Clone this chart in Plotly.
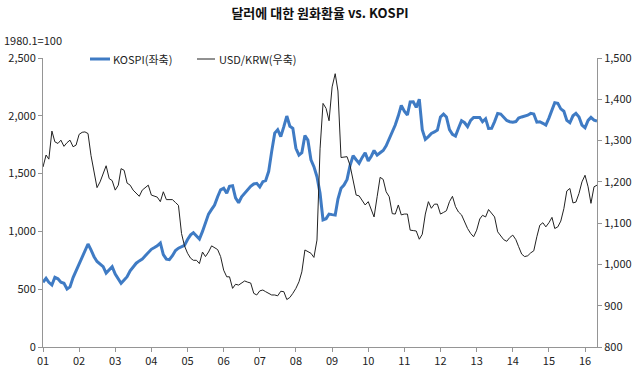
import plotly.graph_objects as go
import pandas as pd

dates = pd.date_range("2001-01-01", periods=185, freq="MS")

kospi = [
    560, 594, 560, 536, 603, 590, 560, 551, 502, 520, 600, 660,
    720, 770, 840, 891, 840, 781, 740, 720, 695, 640, 670, 695,
    630, 590, 551, 580, 608, 660, 690, 725, 745, 760, 790, 815,
    845, 860, 875, 900, 800, 760, 755, 790, 835, 855, 865, 880,
    930, 970, 989, 960, 934, 1000, 1080, 1150, 1190, 1228, 1300, 1360,
    1373, 1330, 1390, 1395, 1290, 1248, 1300, 1330, 1352, 1390, 1410, 1416,
    1385, 1430, 1439, 1520, 1690, 1850, 1880, 1820, 1906, 1998, 1910, 1892,
    1719, 1660, 1680, 1830, 1790, 1620, 1560, 1473, 1330, 1100, 1110, 1150,
    1145, 1142, 1280, 1373, 1401, 1450, 1570, 1655, 1620, 1589, 1640, 1681,
    1610, 1650, 1700, 1660, 1680, 1700, 1740, 1800, 1870, 1920, 2000, 2090,
    2040, 2007, 2120, 2122, 2073, 2143, 1880, 1796, 1820, 1848, 1860, 1877,
    1990, 2015, 1990, 1880, 1840, 1825, 1892, 1957, 1940, 1906, 1960, 1986,
    1986, 1986, 1949, 1975, 1890, 1892, 1950, 2020, 2015, 1990, 1960, 1949,
    1945, 1950, 1980, 1990, 1998, 2005, 2021, 2015, 1945, 1949, 1935, 1920,
    1980, 2050, 2113, 2108, 2060, 2040, 1960, 1940, 2000, 2021, 1990, 1920,
    1897, 1960, 1986, 1962, 1955,
]

usdkrw = [
    1236, 1265, 1255, 1323, 1297, 1293, 1301, 1286, 1295, 1301, 1285, 1289,
    1315, 1320, 1321, 1317, 1264, 1224, 1186, 1200, 1220, 1239, 1208, 1203,
    1180, 1192, 1232, 1228, 1197, 1192, 1180, 1172, 1165, 1180, 1186, 1192,
    1168, 1165, 1163, 1152, 1176, 1157, 1157, 1157, 1150, 1143, 1075, 1045,
    1027, 1015, 1010, 1010, 1002, 1030, 1019, 1030, 1045, 1040, 1036, 1019,
    986, 970, 970, 942, 952, 950, 955, 960, 957, 955, 930, 926,
    936, 938, 934, 930, 926, 926, 924, 935, 934, 915, 920, 930,
    942, 958, 982, 1035, 1030, 1027, 1017, 1059, 1280, 1390, 1378, 1348,
    1430, 1462, 1420, 1259, 1260, 1261, 1240, 1205, 1168, 1166, 1155, 1144,
    1152, 1131, 1115, 1164, 1211, 1206, 1176, 1164, 1123, 1122, 1144, 1120,
    1122, 1122, 1083, 1082, 1081, 1061, 1073, 1122, 1152, 1136, 1146, 1146,
    1122, 1126, 1130, 1152, 1165, 1140, 1127, 1120, 1103, 1087, 1075, 1067,
    1083, 1110, 1119, 1115, 1133, 1125, 1115, 1079, 1069, 1060, 1056, 1065,
    1071, 1060, 1043, 1025, 1019, 1021, 1028, 1033, 1067, 1095, 1101, 1091,
    1101, 1114, 1087, 1091, 1105, 1135, 1178, 1184, 1149, 1151, 1172, 1200,
    1216, 1188, 1148, 1188, 1192,
]

year_ticks = pd.date_range("2001-01-01", "2016-01-01", freq="YS")
year_labels = ["01", "02", "03", "04", "05", "06", "07", "08",
               "09", "10", "11", "12", "13", "14", "15", "16"]

series_names = ["KOSPI(좌축)", "USD/KRW(우축)"]
series_colors = ["#3f7bc4", "#222222"]

FONT = "Noto Sans CJK KR"
W, H = 640, 371
L, R, T, B = 43, 43, 58, 24
PW, PH = W - L - R, H - T - B


def px_x(px):
    return (px - L) / PW


def px_y(py):
    return (H - B - py) / PH


fig = go.Figure()
fig.add_trace(go.Scatter(
    x=dates, y=kospi, name=series_names[0], mode="lines",
    line=dict(color=series_colors[0], width=3), yaxis="y",
))
fig.add_trace(go.Scatter(
    x=dates, y=usdkrw, name=series_names[1], mode="lines",
    line=dict(color=series_colors[1], width=1), yaxis="y2",
))

axis_common = dict(
    showgrid=False, showline=True, linecolor="#959595", linewidth=1,
    ticks="outside", ticklen=4, tickcolor="#959595", zeroline=False,
    tickfont=dict(family=FONT, size=11, color="#222222"), automargin=False,
)

# manual legend (short line samples like the original)
legend_shapes = [
    dict(type="line", xref="paper", yref="paper",
         x0=px_x(90), x1=px_x(110), y0=px_y(59), y1=px_y(59),
         line=dict(color=series_colors[0], width=3)),
    dict(type="line", xref="paper", yref="paper",
         x0=px_x(197), x1=px_x(215), y0=px_y(59), y1=px_y(59),
         line=dict(color=series_colors[1], width=1)),
]
legend_annos = [
    dict(text=series_names[0], xref="paper", yref="paper", x=px_x(111), y=px_y(59),
         xanchor="left", yanchor="middle", showarrow=False,
         font=dict(family=FONT, size=11, color="#222222")),
    dict(text=series_names[1], xref="paper", yref="paper", x=px_x(217), y=px_y(59),
         xanchor="left", yanchor="middle", showarrow=False,
         font=dict(family=FONT, size=11, color="#222222")),
    dict(text="1980.1=100", xref="paper", yref="paper", x=px_x(2), y=px_y(40),
         xanchor="left", yanchor="middle", showarrow=False,
         font=dict(family=FONT, size=11, color="#222222")),
]

fig.update_layout(
    width=W, height=H,
    margin=dict(l=L, r=R, t=T, b=B),
    paper_bgcolor="white", plot_bgcolor="white",
    font=dict(family=FONT, size=11, color="#222222"),
    title=dict(text="<b>달러에 대한 원화환율 vs. KOSPI</b>", x=0.5, xanchor="center",
               yref="container", y=1 - 13 / H, yanchor="middle",
               font=dict(family=FONT, size=13, color="#111111")),
    showlegend=False,
    xaxis=dict(
        type="date", range=["2001-01-01", "2016-05-01"],
        tickmode="array", tickvals=year_ticks, ticktext=year_labels,
        **axis_common,
    ),
    yaxis=dict(range=[0, 2500], dtick=500, tickformat=",", **axis_common),
    yaxis2=dict(range=[800, 1500], dtick=100, tickformat=",",
                overlaying="y", side="right", **axis_common),
    shapes=legend_shapes,
    annotations=legend_annos,
)

fig.write_html(
    "out.html",
    config={"displayModeBar": False},
    post_script="document.body.style.margin='0';document.body.style.padding='0';",
)
